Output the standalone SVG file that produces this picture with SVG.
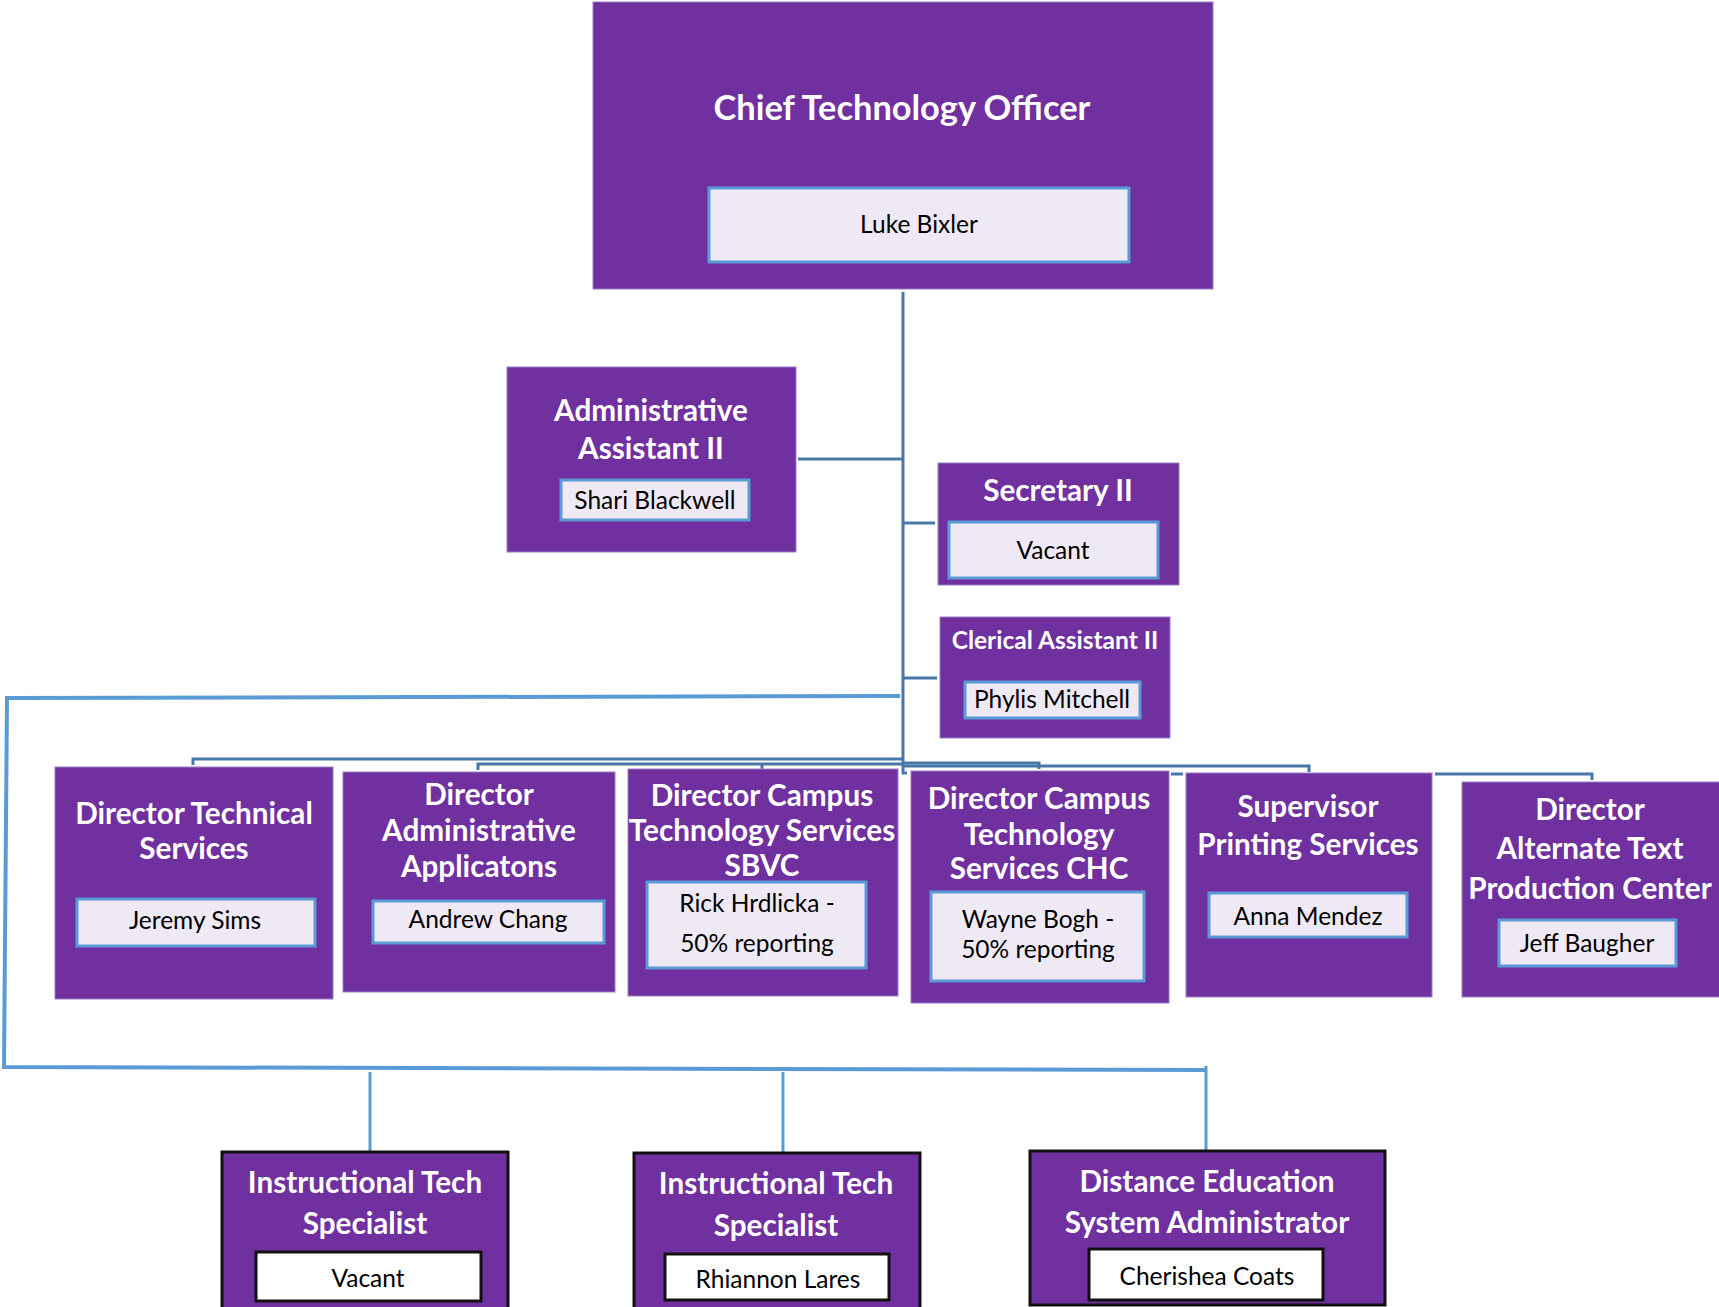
<svg xmlns="http://www.w3.org/2000/svg" width="1719" height="1307" viewBox="0 0 1719 1307">
<style>
.box{fill:#7030A0;stroke:#9C7FC4;stroke-width:1}
.boxk{fill:#7030A0;stroke:#111;stroke-width:3}
.in{fill:#EEE9F4;stroke:#5B9BD5;stroke-width:3}
.ink{fill:#FFFFFF;stroke:#111;stroke-width:3}
.t{font-family:Lato,"Open Sans","Liberation Sans",sans-serif;font-weight:bold;fill:#FFFFFF;text-anchor:middle;font-size:29.7px}
.n{font-family:Lato,"Open Sans","Liberation Sans",sans-serif;fill:#000;text-anchor:middle;font-size:24.5px}
.c{fill:none;stroke:#4678A8;stroke-width:3}
.cb{fill:none;stroke:#5B9BD5;stroke-width:4}
</style>
<rect width="1719" height="1307" fill="#FFFFFF"/>
<g id="connectors">
<path class="c" d="M903,292 V773 H907"/>
<path class="c" d="M798,459 H903"/>
<path class="c" d="M903,523 H935"/>
<path class="c" d="M903,678 H937"/>
<path class="c" d="M193,765 V759 H903"/>
<path class="c" d="M478,770 V764 H903"/>
<path class="c" d="M762,769 V764"/>
<path class="c" d="M903,763 H1039 V769"/>
<path class="c" d="M903,766 H1309 V772"/>
<path class="c" d="M1171,774 H1183"/>
<path class="c" d="M1435,774 H1592 V780"/>
<path class="cb" d="M900,696 L7,698 L4,1067 L1206,1070"/>
<path class="cb" d="M1206,1066 V1155" style="stroke-width:3"/>
<path class="cb" d="M370,1072 V1152" style="stroke-width:3"/>
<path class="cb" d="M783,1072 V1152" style="stroke-width:3"/>
</g>
<g id="cto">
<rect class="box" x="593" y="2" width="620" height="287"/>
<text class="t" x="902" y="120" style="font-size:34.4px">Chief Technology Officer</text>
<rect class="in" x="709" y="188" width="420" height="74"/>
<text class="n" x="919" y="233">Luke Bixler</text>
</g>
<g id="admin-assistant">
<rect class="box" x="507" y="367" width="289" height="185"/>
<text class="t" x="651" y="421">Administrative</text>
<text class="t" x="651" y="459">Assistant II</text>
<rect class="in" x="561" y="480" width="188" height="40"/>
<text class="n" x="655" y="509">Shari Blackwell</text>
</g>
<g id="secretary">
<rect class="box" x="938" y="463" width="241" height="122"/>
<text class="t" x="1058" y="501">Secretary II</text>
<rect class="in" x="949" y="522" width="209" height="56"/>
<text class="n" x="1053" y="559">Vacant</text>
</g>
<g id="clerical">
<rect class="box" x="940" y="617" width="230" height="121"/>
<text class="t" x="1055" y="649" style="font-size:24.5px">Clerical Assistant II</text>
<rect class="in" x="965" y="682" width="175" height="36"/>
<text class="n" x="1052" y="708">Phylis Mitchell</text>
</g>
<g id="dir-tech">
<rect class="box" x="55" y="767" width="278" height="232"/>
<text class="t" x="194" y="824">Director Technical</text>
<text class="t" x="194" y="859">Services</text>
<rect class="in" x="77" y="899" width="238" height="47"/>
<text class="n" x="195" y="929">Jeremy Sims</text>
</g>
<g id="dir-admin-apps">
<rect class="box" x="343" y="772" width="272" height="220"/>
<text class="t" x="479" y="805">Director</text>
<text class="t" x="479" y="841">Administrative</text>
<text class="t" x="479" y="877">Applicatons</text>
<rect class="in" x="373" y="901" width="231" height="42"/>
<text class="n" x="488" y="928">Andrew Chang</text>
</g>
<g id="dir-sbvc">
<rect class="box" x="628" y="769" width="270" height="227"/>
<text class="t" x="762" y="806">Director Campus</text>
<text class="t" x="762" y="841">Technology Services</text>
<text class="t" x="762" y="876">SBVC</text>
<rect class="in" x="647" y="882" width="219" height="86"/>
<text class="n" x="757" y="912">Rick Hrdlicka -</text>
<text class="n" x="757" y="952">50% reporting</text>
</g>
<g id="dir-chc">
<rect class="box" x="911" y="771" width="258" height="232"/>
<text class="t" x="1039" y="809">Director Campus</text>
<text class="t" x="1039" y="845">Technology</text>
<text class="t" x="1039" y="879">Services CHC</text>
<rect class="in" x="931" y="892" width="213" height="89"/>
<text class="n" x="1038" y="928">Wayne Bogh -</text>
<text class="n" x="1038" y="958">50% reporting</text>
</g>
<g id="sup-printing">
<rect class="box" x="1186" y="773" width="246" height="224"/>
<text class="t" x="1308" y="817">Supervisor</text>
<text class="t" x="1308" y="855">Printing Services</text>
<rect class="in" x="1209" y="893" width="198" height="44"/>
<text class="n" x="1308" y="925">Anna Mendez</text>
</g>
<g id="dir-alt-text">
<rect class="box" x="1462" y="782" width="260" height="215"/>
<text class="t" x="1590" y="820">Director</text>
<text class="t" x="1590" y="859">Alternate Text</text>
<text class="t" x="1590" y="899">Production Center</text>
<rect class="in" x="1499" y="920" width="177" height="46"/>
<text class="n" x="1587" y="952">Jeff Baugher</text>
</g>
<g id="its-1">
<rect class="boxk" x="222" y="1152" width="286" height="160"/>
<text class="t" x="365" y="1193">Instructional Tech</text>
<text class="t" x="365" y="1234">Specialist</text>
<rect class="ink" x="256" y="1252" width="225" height="49"/>
<text class="n" x="368" y="1287">Vacant</text>
</g>
<g id="its-2">
<rect class="boxk" x="634" y="1153" width="286" height="160"/>
<text class="t" x="776" y="1194">Instructional Tech</text>
<text class="t" x="776" y="1236">Specialist</text>
<rect class="ink" x="665" y="1254" width="224" height="46"/>
<text class="n" x="778" y="1288">Rhiannon Lares</text>
</g>
<g id="distance-ed">
<rect class="boxk" x="1030" y="1151" width="355" height="154"/>
<text class="t" x="1207" y="1192">Distance Education</text>
<text class="t" x="1207" y="1233">System Administrator</text>
<rect class="ink" x="1089" y="1249" width="234" height="51"/>
<text class="n" x="1207" y="1285">Cherishea Coats</text>
</g>
</svg>
